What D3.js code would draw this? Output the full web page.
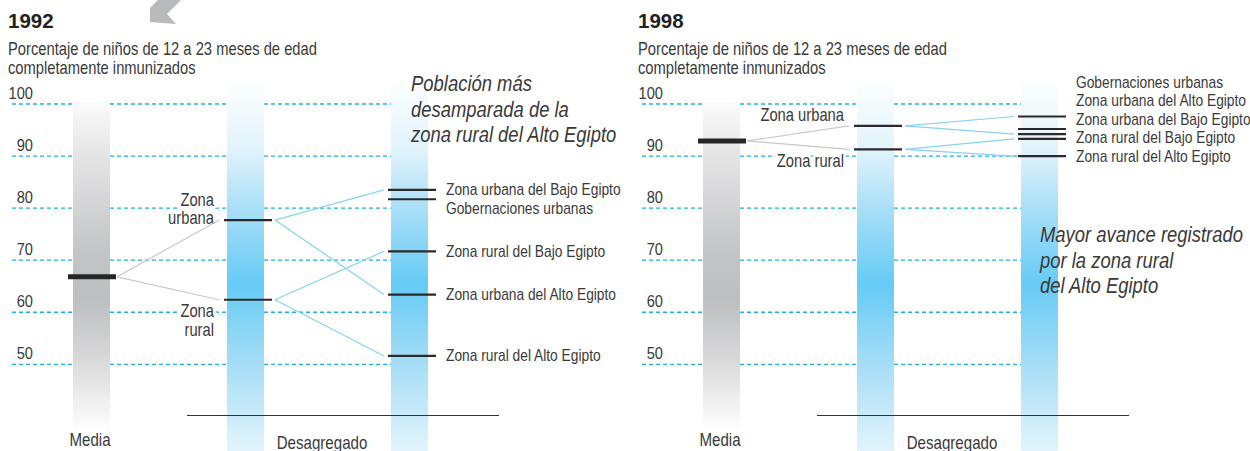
<!DOCTYPE html>
<html>
<head>
<meta charset="utf-8">
<script src="https://cdn.jsdelivr.net/npm/d3@7"></script>
<style>
  html, body { margin: 0; padding: 0; background: #fff; }
  svg { display: block; }
  text { font-family: "Liberation Sans", Arial, sans-serif; fill: #3a3a3a; }
</style>
</head>
<body>
<svg id="chart"></svg>
<script>
// ---- data ----
var years = ["1992", "1998"];
var subtitle = ["Porcentaje de niños de 12 a 23 meses de edad", "completamente inmunizados"];
var ticks = [100, 90, 80, 70, 60, 50];

var mediaValues = [66.8, 92.9];

var zoneNames = ["Zona urbana", "Zona rural"];
var zone1992 = [77.7, 62.4];
var zone1998 = [95.8, 91.3];
var zoneLabels1992 = [["Zona", "urbana"], ["Zona", "rural"]];
var zoneLabels1998 = [["Zona urbana"], ["Zona rural"]];

var regions1992 = ["Zona urbana del Bajo Egipto", "Gobernaciones urbanas", "Zona rural del Bajo Egipto",
                   "Zona urbana del Alto Egipto", "Zona rural del Alto Egipto"];
var region1992 = [83.5, 81.7, 71.7, 63.4, 51.6];
var parent1992 = ["Zona urbana", null, "Zona rural", "Zona urbana", "Zona rural"];

var regions1998 = ["Gobernaciones urbanas", "Zona urbana del Alto Egipto", "Zona urbana del Bajo Egipto",
                   "Zona rural del Bajo Egipto", "Zona rural del Alto Egipto"];
var region1998 = [97.6, 95.2, 94.2, 93.3, 90.0];
var parent1998 = ["Zona urbana", null, "Zona urbana", "Zona rural", "Zona rural"];

var note1992 = ["Población más", "desamparada de la", "zona rural del Alto Egipto"];
var note1998 = ["Mayor avance registrado", "por la zona rural", "del Alto Egipto"];

// ---- layout ----
var width = 1250, height = 451;
var svg = d3.select("#chart").attr("width", width).attr("height", height);

var y = d3.scaleLinear().domain([50, 100]).range([364.3, 104]);

var panels = [
  {year: years[0], x0: 0, media: mediaValues[0], zone: zone1992, zoneLabels: zoneLabels1992,
   regions: regions1992, values: region1992, parents: parent1992, stack: "down",
   note: note1992, noteX: 411, noteY: 91},
  {year: years[1], x0: 630, media: mediaValues[1], zone: zone1998, zoneLabels: zoneLabels1998,
   regions: regions1998, values: region1998, parents: parent1998, stack: "up",
   note: note1998, noteX: 410, noteY: 242}
];

var col = {media: 73, zone: 227, region: 391, w: 37};

// no narrow font installed: squeeze the normal one like a condensed face
function narrow(sel, k) {
  sel.each(function() {
    var t = d3.select(this), x = +t.attr("x"), yy = +t.attr("y");
    t.attr("x", 0).attr("y", 0)
      .attr("transform", "translate(" + x + "," + yy + ") scale(" + k + ",1)");
  });
}

// gradients
var defs = svg.append("defs");
var grey = defs.append("linearGradient").attr("id", "gGrey").attr("x1", 0).attr("x2", 0).attr("y1", 0).attr("y2", 1);
[[0, "#fbfbfb"], [0.15, "#e6e6e7"], [0.45, "#c4c5c7"], [0.6, "#bdbec0"], [0.8, "#dcdcdd"], [1, "#ffffff"]]
  .forEach(function(s) { grey.append("stop").attr("offset", s[0]).attr("stop-color", s[1]); });
var blue = defs.append("linearGradient").attr("id", "gBlue").attr("x1", 0).attr("x2", 0).attr("y1", 0).attr("y2", 1);
[[0, "#ffffff"], [0.18, "#e2f4fc"], [0.33, "#a9dff7"], [0.52, "#66cbf5"], [0.72, "#a6ddf6"], [0.9, "#d8f0fb"], [1, "#eef8fe"]]
  .forEach(function(s) { blue.append("stop").attr("offset", s[0]).attr("stop-color", s[1]); });

// arrow in the top left corner
svg.append("path")
  .attr("d", "M150,22 L150,8 L158,0 L181,0 L167,14 L176,24 Z")
  .attr("fill", "#b9babc");

panels.forEach(function(p) {
  var g = svg.append("g").attr("transform", "translate(" + p.x0 + ",0)");

  g.append("text").attr("x", 8).attr("y", 28)
    .style("font-weight", "bold").style("font-size", "20.5px").style("fill", "#222")
    .text(p.year);

  g.selectAll("text.sub").data(subtitle).enter().append("text")
    .attr("class", "sub")
    .attr("x", 8).attr("y", function(d, i) { return 55 + i * 19; })
    .style("font-size", "18px")
    .text(function(d) { return d; })
    .call(narrow, 0.82);

  // gridlines + tick labels
  g.selectAll("line.grid").data(ticks).enter().append("line")
    .attr("class", "grid")
    .attr("x1", 12).attr("x2", col.region)
    .attr("y1", function(d) { return y(d); }).attr("y2", function(d) { return y(d); })
    .attr("stroke", "#1fb0e8").attr("stroke-width", 1.3).attr("stroke-dasharray", "4,3");

  g.selectAll("text.tick").data(ticks).enter().append("text")
    .attr("class", "tick")
    .attr("x", 33).attr("y", function(d) { return y(d) - 5; })
    .attr("text-anchor", "end")
    .style("font-size", "17px")
    .text(function(d) { return d; })
    .call(narrow, 0.86);

  // columns
  g.append("rect").attr("x", col.media).attr("width", col.w)
    .attr("y", y(100) - 2).attr("height", 432 - y(100) + 2)
    .attr("fill", "url(#gGrey)");
  [col.zone, col.region].forEach(function(cx) {
    g.append("rect").attr("x", cx).attr("width", col.w)
      .attr("y", 76).attr("height", 400)
      .attr("fill", "url(#gBlue)");
  });

  // zone labels (white halo hides the dashed lines behind)
  p.zoneLabels.forEach(function(lines, i) {
    var m = y(p.zone[i]);
    var first = i === 0 ? m + (lines.length > 1 ? 4 : -5) - (lines.length - 1) * 18.5 : m + 17.5;
    g.selectAll(null).data(lines).enter().append("text")
      .attr("x", 214).attr("y", function(d, j) { return first + j * 18.5; })
      .attr("text-anchor", "end")
      .style("font-size", "18px")
      .style("stroke", "#fff").style("stroke-width", 6).style("paint-order", "stroke")
      .text(function(d) { return d; })
      .call(narrow, 0.82);
  });

  // region labels, stacked so they do not collide
  var order = d3.range(p.values.length).sort(function(a, b) { return p.values[b] - p.values[a]; });
  var pos = order.map(function(k) { return y(p.values[k]); });
  var gap = 18.5;
  if (p.stack === "down") {
    for (var i = 1; i < pos.length; i++) pos[i] = Math.max(pos[i], pos[i - 1] + gap);
  } else {
    for (var i = pos.length - 2; i >= 0; i--) pos[i] = Math.min(pos[i], pos[i + 1] - gap);
  }
  g.selectAll("text.region").data(order).enter().append("text")
    .attr("class", "region")
    .attr("x", 446).attr("y", function(k, i) { return pos[i] + 5.5; })
    .style("font-size", "16.8px")
    .text(function(k) { return p.regions[k]; })
    .call(narrow, 0.82);

  // connectors media -> zones
  g.selectAll("line.grey").data(p.zone).enter().append("line")
    .attr("x1", 117).attr("y1", y(p.media))
    .attr("x2", 219).attr("y2", function(d) { return y(d); })
    .attr("stroke", "#c8c8c8").attr("stroke-width", 1.2);

  // connectors zones -> regions
  var links = p.parents.map(function(par, k) { return {src: par, val: p.values[k]}; })
    .filter(function(l) { return l.src !== null; });
  g.selectAll("line.blue").data(links).enter().append("line")
    .attr("x1", 275).attr("y1", function(l) { return y(p.zone[zoneNames.indexOf(l.src)]); })
    .attr("x2", 384).attr("y2", function(l) { return y(l.val); })
    .attr("stroke", "#86d2f4").attr("stroke-width", 1.2);

  // marks
  g.append("line").attr("x1", 68).attr("x2", 116)
    .attr("y1", y(p.media)).attr("y2", y(p.media))
    .attr("stroke", "#262626").attr("stroke-width", 5);
  g.selectAll("line.zm").data(p.zone).enter().append("line")
    .attr("x1", 224).attr("x2", 272)
    .attr("y1", function(d) { return y(d); }).attr("y2", function(d) { return y(d); })
    .attr("stroke", "#2a2a2a").attr("stroke-width", 2.2);
  g.selectAll("line.rm").data(p.values).enter().append("line")
    .attr("x1", 388).attr("x2", 436)
    .attr("y1", function(d) { return y(d); }).attr("y2", function(d) { return y(d); })
    .attr("stroke", "#2a2a2a").attr("stroke-width", 2.2);

  // bottom rule and captions
  g.append("line").attr("x1", 187).attr("x2", 499).attr("y1", 415.5).attr("y2", 415.5)
    .attr("stroke", "#333").attr("stroke-width", 1.2);
  g.append("text").attr("x", 90).attr("y", 446).attr("text-anchor", "middle")
    .style("font-size", "18px").text("Media").call(narrow, 0.84);
  g.append("text").attr("x", 322).attr("y", 449).attr("text-anchor", "middle")
    .style("font-size", "18px").text("Desagregado").call(narrow, 0.84);

  // italic note
  g.selectAll("text.note").data(p.note).enter().append("text")
    .attr("class", "note")
    .attr("x", p.noteX).attr("y", function(d, i) { return p.noteY + i * 25.5; })
    .style("font-size", "22.5px").style("font-style", "italic")
    .text(function(d) { return d; })
    .call(narrow, 0.82);
});
</script>
</body>
</html>
